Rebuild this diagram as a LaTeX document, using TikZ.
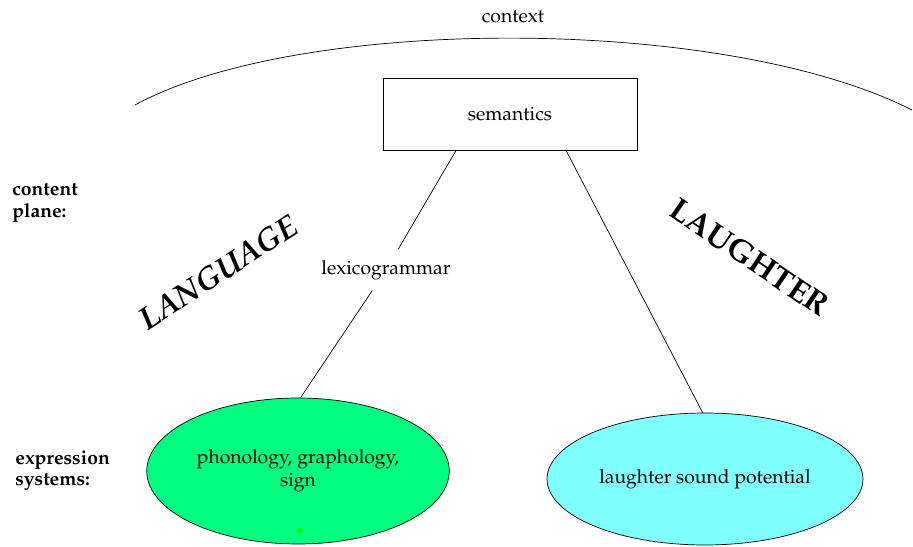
\documentclass[tikz,border=0pt]{standalone}
\usepackage[T1]{fontenc}
\usepackage{mathpazo}
\usetikzlibrary{shapes.geometric}
\definecolor{langgreen}{RGB}{0,255,128}
\definecolor{laughcyan}{RGB}{128,255,255}
\definecolor{dotgreen}{RGB}{0,255,0}
\begin{document}
\begin{tikzpicture}[x=0.02cm,y=-0.02cm]
	\tikzstyle{plane}=[align=left,anchor=west,inner sep=0pt,font=\fontsize{11}{12}\selectfont\bfseries]
	\tikzstyle{system}=[ellipse,draw,align=center,font=\fontsize{11}{13}\selectfont]
	\tikzstyle{wordart}=[font=\fontsize{18}{18}\selectfont\bfseries]
	\useasboundingbox (0,0) rectangle (913,547);
	% context arc
	\draw (135,105) .. controls (300,15) and (725,15) .. (912,110);
	\node[font=\fontsize{11}{13}\selectfont] (context) at (513,17) {context};
	\node[draw,minimum width=5.08cm,minimum height=1.44cm,font=\fontsize{11}{13}\selectfont] (sem) at (510,114) {semantics};
	\node[plane] (content) at (12,203) {content\\plane:};
	\node[plane] (expr) at (15,471) {expression\\systems:};
	\node[wordart,rotate=33] (lang) at (218,272) {\itshape LANGUAGE};
	\node[wordart,rotate=-34] (laugh) at (750,257) {LAUGHTER};
	\node[system,fill=langgreen,minimum width=6.04cm,minimum height=2.92cm] (green) at (298,471) {phonology, graphology,\\sign};
	\node[system,fill=laughcyan,minimum width=6.32cm,minimum height=2.64cm] (cyan) at (705,479) {laughter sound potential};
	\node[font=\fontsize{11}{13}\selectfont,inner sep=1pt,inner ysep=6pt] (lex) at (386,270) {lexicogrammar};
	\draw (sem.214) -- (lex);
	\draw (lex) -- (green.88);
	\draw (sem.-33) -- (cyan.92);
	\fill[dotgreen] (300,531) circle (3);
\end{tikzpicture}
\end{document}
